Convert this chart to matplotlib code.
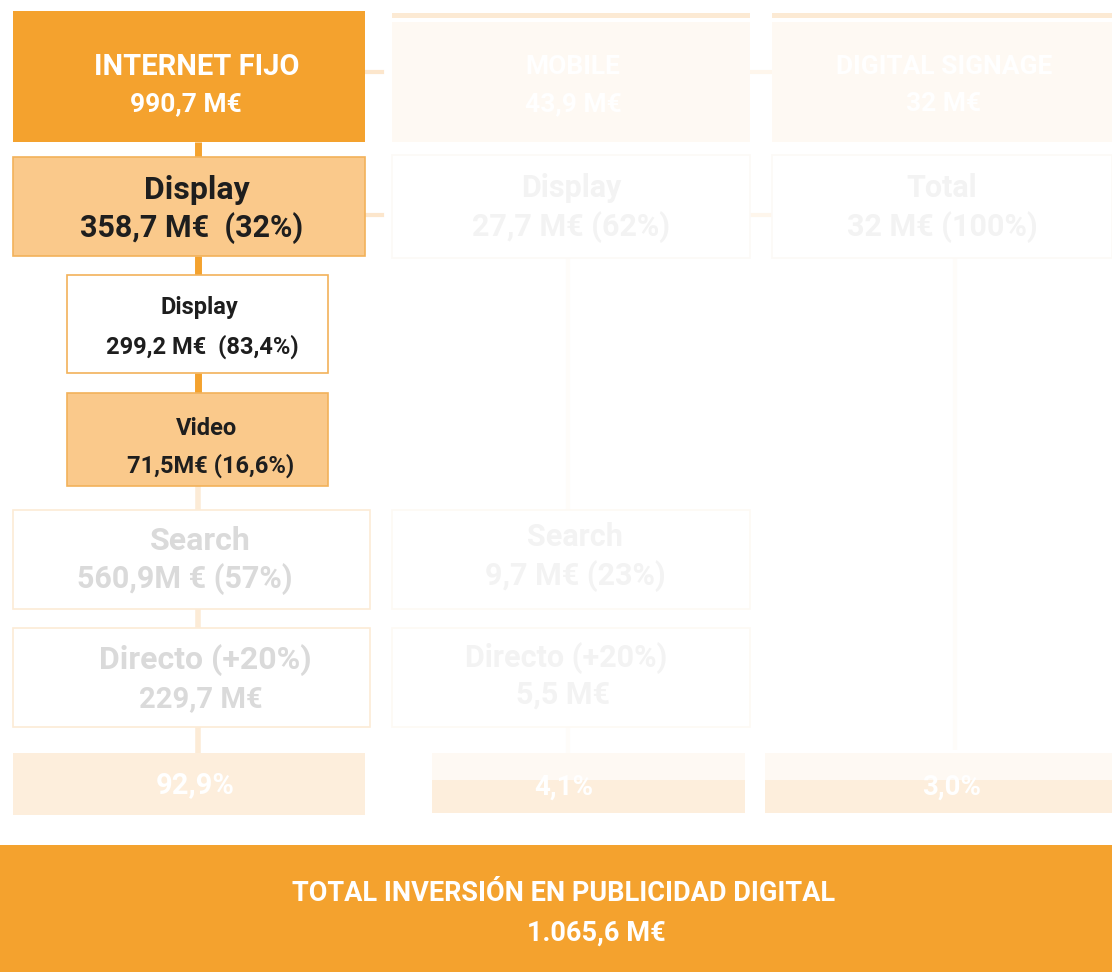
"""
Inversión en publicidad digital — esquema de cajas (Internet fijo resaltado).
"""
import matplotlib
matplotlib.use("Agg")
import matplotlib.pyplot as plt
from matplotlib.patches import Rectangle

# Datos
canales = ["INTERNET FIJO", "MOBILE", "DIGITAL SIGNAGE"]
inversion = ["990,7 M€", "43,9 M€", "32 M€"]
cuota = ["92,9%", "4,1%", "3,0%"]

display_lbl = ["Display", "Display", "Total"]
display_val = ["358,7 M€  (32%)", "27,7 M€ (62%)", "32 M€ (100%)"]

sub_lbl = ["Display", "Video"]
sub_val = ["299,2 M€  (83,4%)", "71,5M€ (16,6%)"]

search_val = ["560,9M € (57%)", "9,7 M€ (23%)"]
directo_val = ["229,7 M€", "5,5 M€"]

total_lbl = "TOTAL INVERSIÓN EN PUBLICIDAD DIGITAL"
total_val = "1.065,6 M€"

# Colores
NAR = "#F4A22E"
NAR_CL = "#FAC98B"
NAR_BORDE = "#F2B25A"
FADE = "#FDEEDC"
FADE2 = "#FEF9F3"
GRIS = "#DADADA"
GRIS2 = "#F3F3F3"
OSC = "#1E1E1E"

FONT = ["Roboto", "DejaVu Sans"]

fig = plt.figure(figsize=(11.12, 9.72), dpi=100, facecolor="white")
ax = fig.add_axes([0, 0, 1, 1])
ax.set_xlim(0, 1112)
ax.set_ylim(972, 0)
ax.axis("off")


def caja(x0, y0, x1, y1, fc, ec="none", lw=1.2, z=2):
    ax.add_patch(Rectangle((x0, y0), x1 - x0, y1 - y0, fc=fc, ec=ec, lw=lw, zorder=z))


def texto(x, y, s, size, color, weight="bold"):
    ax.text(x, y, s, fontsize=size, color=color, family=FONT, fontweight=weight,
            ha="center", va="center", zorder=10)


def vline(x, y0, y1, color, lw=5):
    ax.plot([x, x], [y0, y1], color=color, lw=lw, zorder=1, solid_capstyle="butt")


# === COLUMNAS DESVANECIDAS (Mobile / Digital signage) ===
col_x = [(392, 750), (772, 1112)]
for i, (x0, x1) in enumerate(col_x):
    cx = (x0 + x1) / 2
    caja(x0, 13, x1, 18, "#FCEAD4")
    caja(x0, 22, x1, 142, FADE2)
    texto(cx + 2, 67, canales[i + 1], 19, "#FFFFFF")
    texto(cx + 2, 104, inversion[i + 1], 19, "#FFFFFF")
    caja(x0, 155, x1, 258, "white", ec="#FCF9F6")
    texto(cx, 188, display_lbl[i + 1], 22, GRIS2)
    texto(cx, 227, display_val[i + 1], 22, GRIS2)

# conectores tenues
ax.plot([365, 382], [72, 72], color="#FCE6CC", lw=3, zorder=1)
ax.plot([365, 382], [215, 215], color="#FCE6CC", lw=3, zorder=1)
ax.plot([750, 772], [72, 72], color="#FEF6EC", lw=3, zorder=1)
ax.plot([750, 772], [215, 215], color="#FEF6EC", lw=3, zorder=1)
vline(568, 258, 510, "#FEFCF9", 3)
vline(955, 258, 750, "#FEFCF9", 3)

# Mobile: search / directo
caja(392, 510, 750, 609, "white", ec="#FDF9F4")
texto(575, 537, "Search", 22, GRIS2)
texto(575, 576, search_val[1], 22, GRIS2)
caja(392, 628, 750, 727, "white", ec="#FDF9F4")
texto(566, 658, "Directo (+20%)", 22, GRIS2)
texto(563, 695, directo_val[1], 22, GRIS2)
vline(568, 727, 753, "#FEFCF9", 3)

# barras de cuota
caja(432, 753, 745, 780, FADE2)
caja(432, 780, 745, 813, FADE)
caja(765, 753, 1112, 780, FADE2)
caja(765, 780, 1112, 813, FADE)
texto(564, 787, cuota[1], 20, "white")
texto(952, 787, cuota[2], 20, "white")

# === INTERNET FIJO (resaltado) ===
vline(198, 142, 157, NAR)
vline(198, 256, 275, NAR)
vline(198, 373, 393, NAR)
vline(198, 486, 510, "#FCEBD6", 4)
vline(198, 609, 628, "#FCEBD6", 4)
vline(198, 727, 753, "#FCEBD6", 4)

caja(13, 11, 365, 142, NAR)
texto(197, 67, canales[0], 21, "white")
texto(186, 104, inversion[0], 19, "white")

caja(13, 157, 365, 256, NAR_CL, ec=NAR_BORDE)
texto(197, 190, display_lbl[0], 23, OSC)
texto(192, 228, display_val[0], 22, OSC)

caja(67, 275, 328, 373, "white", ec=NAR_BORDE)
texto(199, 307, sub_lbl[0], 17, OSC)
texto(202, 347, sub_val[0], 17, OSC)

caja(67, 393, 328, 486, NAR_CL, ec=NAR_BORDE)
texto(207, 428, sub_lbl[1], 17, OSC)
texto(211, 466, sub_val[1], 17, OSC)

# cajas desvanecidas de Internet fijo
caja(13, 510, 370, 609, "white", ec="#FCEBD6")
texto(200, 541, "Search", 23, GRIS)
texto(185, 579, search_val[0], 22, GRIS)
caja(13, 628, 370, 727, "white", ec="#FCEBD6")
texto(205, 660, "Directo (+20%)", 23, GRIS)
texto(201, 699, directo_val[0], 21, GRIS)

caja(13, 753, 365, 815, FADE)
texto(195, 785, cuota[0], 21, "white")

# === TOTAL ===
caja(0, 845, 1112, 972, NAR)
texto(564, 893, total_lbl, 19.5, "white")
texto(596, 933, total_val, 19.5, "white")

plt.savefig("out.png", dpi=100, facecolor="white")
plt.close()
